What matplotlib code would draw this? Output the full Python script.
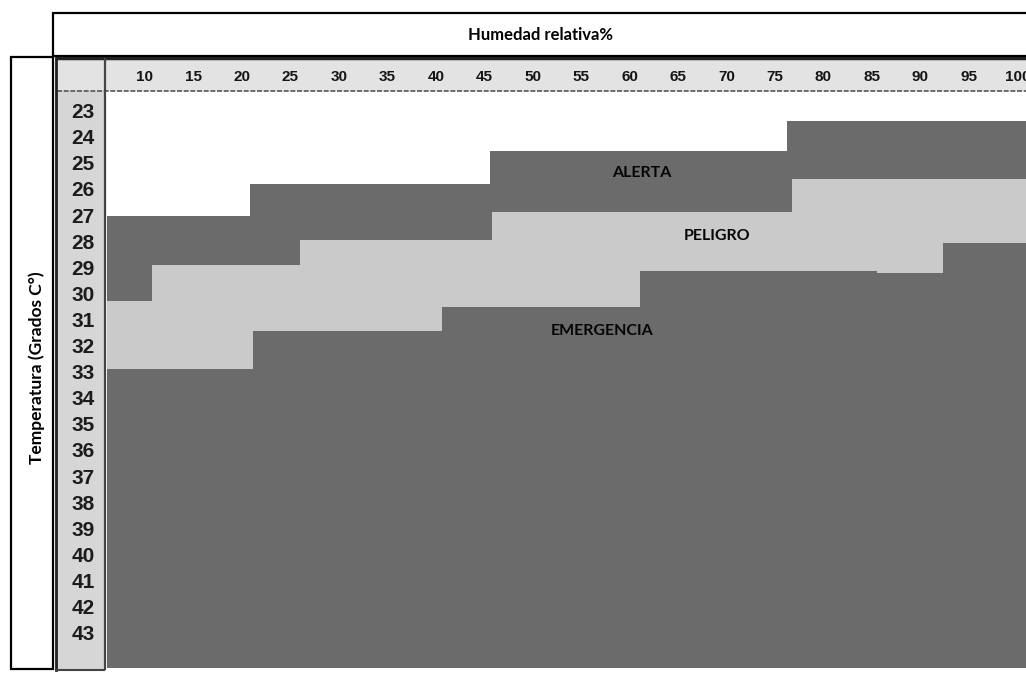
import matplotlib
matplotlib.use("Agg")
import matplotlib.pyplot as plt
from matplotlib.patches import Rectangle
from matplotlib.lines import Line2D
from matplotlib.transforms import blended_transform_factory

# ---------------- data ----------------
humidity_ticks = [10, 15, 20, 25, 30, 35, 40, 45, 50, 55, 60, 65, 70, 75, 80, 85, 90, 95, 100]
temperature_ticks = list(range(23, 44))

# zone boundaries (step functions over relative humidity, temperature thresholds)
alerta_edges = [6.1, 20.8, 45.6, 76.2, 101.0]
alerta_start = [26.97, 25.74, 24.48, 23.33]

peligro_edges = [6.1, 10.7, 26.0, 45.8, 76.8, 101.0]
peligro_start = [30.22, 28.84, 27.89, 26.81, 25.55]

emergencia_edges = [6.1, 21.15, 40.65, 61.1, 85.5, 92.35, 101.0]
emergencia_start = [32.83, 31.37, 30.45, 29.07, 29.15, 28.0]

zone_labels = ["ALERTA", "PELIGRO", "EMERGENCIA"]
zone_label_pos = [(61.3, 25.32), (69.0, 27.73), (57.2, 31.37)]

DARK = "#6b6b6b"
LIGHT = "#cacaca"

W, H = 1026, 673
fig = plt.figure(figsize=(W / 100, H / 100), dpi=100)
fig.patch.set_facecolor("white")


def fx(x):
    return x / W


def fy(y):
    return 1 - y / H


# main data axes
ax_l, ax_r, ax_t, ax_b = 107, 1026, 92, 667
ax = fig.add_axes([fx(ax_l), fy(ax_b), fx(ax_r) - fx(ax_l), fy(ax_t) - fy(ax_b)])
ax.set_xlim(6.08, 100.9)
ax.set_ylim(44.24, 22.21)
ax.set_axis_off()
ax.set_zorder(5)


def zone(edges, starts, color):
    xs = list(edges)
    ys = list(starts) + [starts[-1]]
    ax.fill_between(xs, ys, [50] * len(xs), step="post", color=color, linewidth=0)


zone(alerta_edges, alerta_start, DARK)
zone(peligro_edges, peligro_start, LIGHT)
zone(emergencia_edges, emergencia_start, DARK)

for lab, (hx, ty) in zip(zone_labels, zone_label_pos):
    ax.text(hx, ty, lab, ha="center", va="center", fontsize=11.5, fontweight="bold",
            family="Lato", color="#050505")

# header row background
fig.patches.append(Rectangle((fx(57), fy(91)), fx(1026) - fx(57), fy(60) - fy(91),
                             transform=fig.transFigure, facecolor="#e3e3e3", edgecolor="none",
                             zorder=-2))
# row label column background
fig.patches.append(Rectangle((fx(57), fy(669)), fx(104) - fx(57), fy(91) - fy(669),
                             transform=fig.transFigure, facecolor="#d6d6d6", edgecolor="none",
                             zorder=-2))

tr_x = blended_transform_factory(ax.transData, fig.transFigure)
for h in humidity_ticks:
    ax.text(h, fy(77), str(h), transform=tr_x, ha="center", va="center",
            fontsize=11, fontweight="bold", family="Liberation Sans", color="#151515",
            clip_on=False)

tr_y = blended_transform_factory(fig.transFigure, ax.transData)
for t in temperature_ticks:
    ax.text(fx(83), t, str(t), transform=tr_y, ha="center", va="center",
            fontsize=15, fontweight="bold", family="Liberation Sans", color="#1c1c1c",
            clip_on=False)


# lines of the table
def line(x0, y0, x1, y1, lw=1.5, color="black", ls="-"):
    fig.lines.append(Line2D([fx(x0), fx(x1)], [fy(y0), fy(y1)], transform=fig.transFigure,
                            color=color, linewidth=lw, linestyle=ls, zorder=10))


line(57, 58, 1026, 58, lw=2.5, color="#222222")
line(57, 90.5, 1026, 90.5, lw=1.2, color="#555555", ls=(0, (3, 1)))
line(104.5, 59, 104.5, 669, lw=1.6, color="#444444")
line(55.5, 57, 55.5, 670, lw=2.0, color="#222222")
line(57, 669.5, 104, 669.5, lw=1.5, color="#444444")

# top title box
fig.patches.append(Rectangle((fx(52.5), fy(56)), fx(1030) - fx(52.5), fy(12.5) - fy(56),
                             transform=fig.transFigure, facecolor="none", edgecolor="black",
                             linewidth=1.6, zorder=10))
fig.text(fx(540), fy(35), "Humedad relativa%", ha="center", va="center",
         fontsize=12, fontweight="bold", family="Lato", color="black")

# left title box
fig.patches.append(Rectangle((fx(10.5), fy(669)), fx(52.5) - fx(10.5), fy(57) - fy(669),
                             transform=fig.transFigure, facecolor="none", edgecolor="black",
                             linewidth=1.6, zorder=10))
fig.text(fx(37), fy(368), "Temperatura (Grados C°)", ha="center", va="center",
         rotation=90, fontsize=12.5, fontweight="bold", family="Lato", color="black")

fig.savefig("out.png", dpi=100)
